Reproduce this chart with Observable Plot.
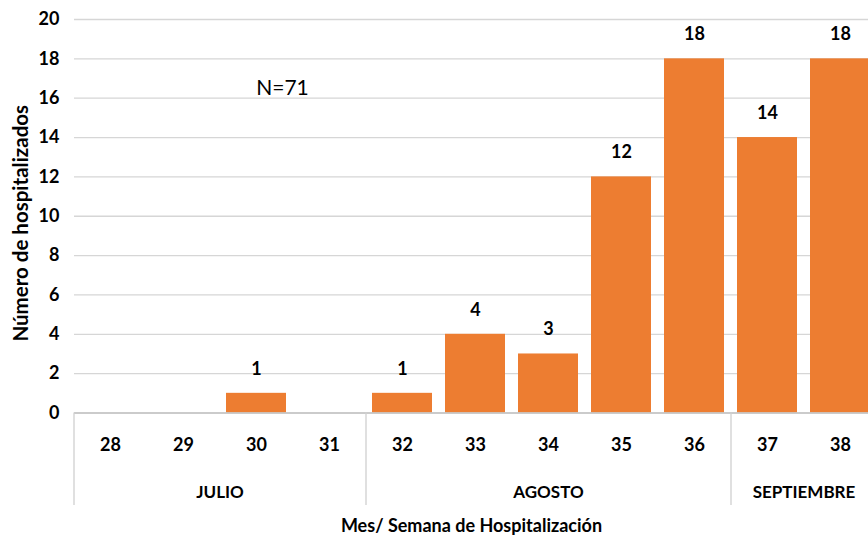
<!DOCTYPE html>
<html>
<head>
<meta charset="utf-8">
<script src="https://cdn.jsdelivr.net/npm/d3@7"></script>
<script src="https://cdn.jsdelivr.net/npm/@observablehq/plot@0.6"></script>
<style>
  html, body { margin: 0; padding: 0; background: #fff; }
  #chart svg { display: block; }
</style>
</head>
<body>
<div id="chart"></div>
<script>
const weeks = ["28", "29", "30", "31", "32", "33", "34", "35", "36", "37", "38"];
const counts = [0, 0, 1, 0, 1, 4, 3, 12, 18, 14, 18];
const months = ["JULIO", "AGOSTO", "SEPTIEMBRE"];
const monthFirstWeek = ["28", "32", "37"];
const monthLastWeek = ["31", "36", "38"];
const yTicks = [0, 2, 4, 6, 8, 10, 12, 14, 16, 18, 20];

const data = weeks.map((w, i) => ({week: w, value: counts[i]}));
const monthData = months.map((m, i) => ({name: m, first: monthFirstWeek[i], last: monthLastWeek[i]}));
const total = d3.sum(counts);

const font = "Lato, 'Liberation Sans', sans-serif";
const orange = "#ED7D31";

// centre a month label between its first and last week
const centerMonth = (index, scales, values, dims, context, next) => {
  const X = Float64Array.from(values.x);
  for (const i of index) {
    const d = monthData[i];
    X[i] = values.x[i] + (scales.x(d.last) - scales.x(d.first)) / 2;
  }
  return next(index, scales, {...values, x: X}, dims, context);
};

const chart = Plot.plot({
  width: 868,
  height: 538,
  marginLeft: 74,
  marginRight: 0,
  marginTop: 19,
  marginBottom: 125.5,
  style: {fontFamily: font, fontSize: "18px", fontWeight: "bold", color: "#000", background: "#fff"},
  x: {type: "band", domain: weeks, range: [74, 877], paddingInner: 0.178, paddingOuter: 0.089, axis: null},
  y: {domain: [0, 20], axis: null},
  marks: [
    Plot.gridY(yTicks, {stroke: "#d6d6d6", strokeOpacity: 1, strokeWidth: 1.3}),
    Plot.axisY(yTicks, {tickSize: 0, tickPadding: 15, fontSize: 18, fontWeight: "bold", fill: "#000", label: null}),
    Plot.barY(data, {x: "week", y: "value", fill: orange}),
    Plot.ruleY([0], {stroke: "#c4c4c4", strokeWidth: 1.5}),
    // month separators below the axis
    Plot.ruleX(monthData, {x: "first", dx: -36.5, y1: 0, y2: -4.7, stroke: "#d0d0d0", strokeWidth: 1.3}),
    // week tick labels
    Plot.text(data, {x: "week", frameAnchor: "bottom", lineAnchor: "middle", dy: 32, text: "week", fontSize: 18, fontWeight: "bold", fill: "#000"}),
    // value labels
    Plot.text(data.filter(d => d.value > 0), {x: "week", y: "value", text: d => String(d.value), dy: -24.5, fontSize: 18, fontWeight: "bold", fill: "#000"}),
    // month labels
    Plot.text(monthData, {x: "first", frameAnchor: "bottom", lineAnchor: "middle", dy: 80, text: "name", fontSize: 17, fontWeight: "bold", fill: "#000", render: centerMonth}),
    Plot.text([`N=${total}`], {frameAnchor: "top-left", lineAnchor: "middle", textAnchor: "middle", dx: 208, dy: 69, fontSize: 21, fontWeight: "normal", fill: "#000"}),
    Plot.text(["Mes/ Semana de Hospitalización"], {frameAnchor: "bottom", lineAnchor: "middle", dy: 113, fontSize: 18, fontWeight: "bold", fill: "#000"}),
    Plot.text(["Número de hospitalizados"], {frameAnchor: "left", textAnchor: "middle", lineAnchor: "middle", rotate: -90, dx: -53, dy: 7, fontSize: 20.5, fontWeight: "bold", fill: "#000"})
  ]
});
document.getElementById("chart").appendChild(chart);
</script>
</body>
</html>
